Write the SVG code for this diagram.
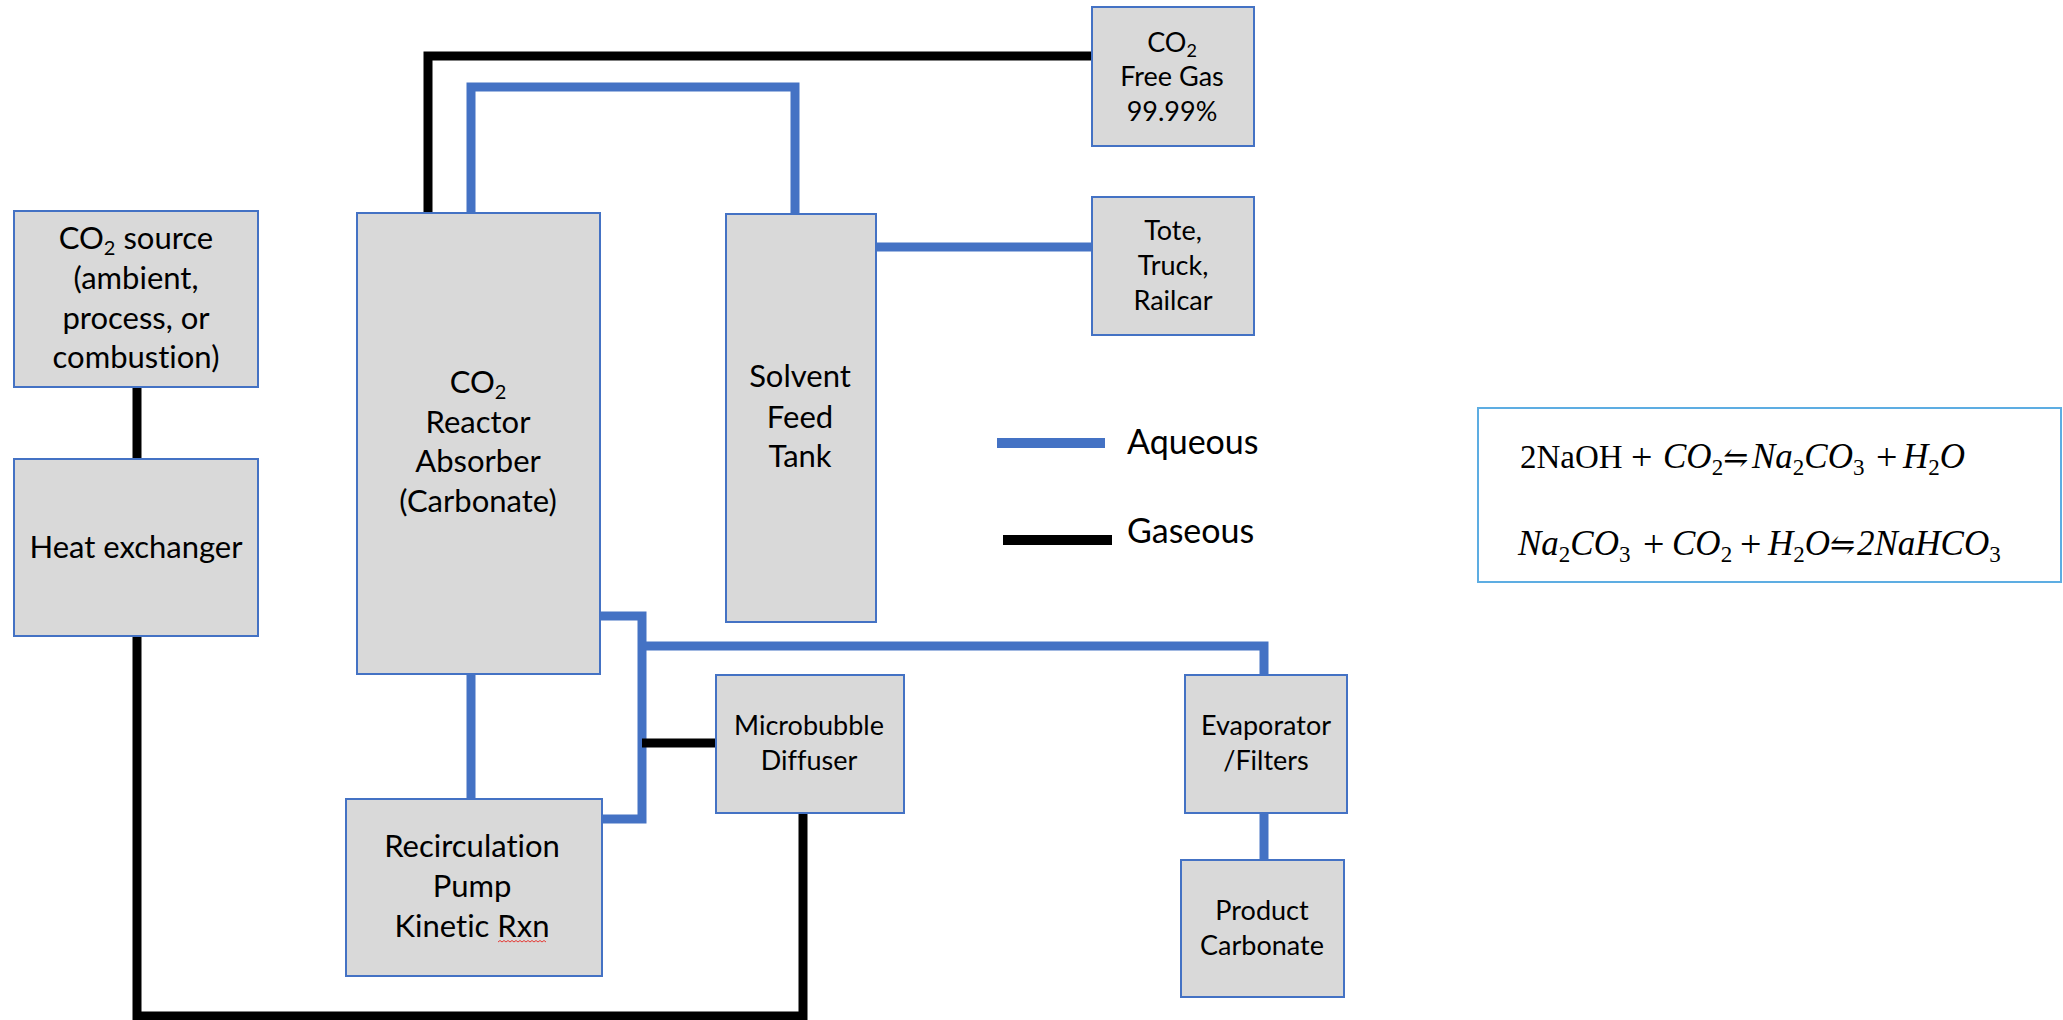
<svg xmlns="http://www.w3.org/2000/svg" width="2063" height="1020" viewBox="0 0 2063 1020">
<style>
.box{fill:#D9D9D9;stroke:#4472C4;stroke-width:2}
.lbl{font-family:Lato,"Liberation Sans",sans-serif;fill:#000;text-anchor:middle;font-variant-ligatures:none}
.big{font-size:31px}
.sm{font-size:27px}
.aq{fill:none;stroke:#4472C4;stroke-width:9;stroke-linejoin:miter;stroke-linecap:butt}
.gas{fill:none;stroke:#000;stroke-width:9;stroke-linejoin:miter;stroke-linecap:butt}
.leg{font-family:Lato,"Liberation Sans",sans-serif;font-size:34px;fill:#000}
.eq{font-family:"Liberation Serif","DejaVu Serif",serif;font-size:33px;fill:#000}
.it{font-style:italic;font-size:35px}
.sb{font-size:23px;font-style:normal}
.pl{font-size:38px;font-style:normal}
.ar{font-family:"DejaVu Serif",serif;font-size:30px;font-style:normal}
</style>
<rect width="2063" height="1020" fill="#fff"/>
<g id="connectors">
<polyline class="gas" points="428,213 428,56 1092,56"/>
<polyline class="aq" points="471,213 471,87 795,87 795,214"/>
<line class="aq" x1="876" y1="247" x2="1092" y2="247"/>
<line class="gas" x1="137" y1="387" x2="137" y2="459"/>
<polyline class="gas" points="137,636 137,1016 803,1016 803,813"/>
<line class="aq" x1="471" y1="674" x2="471" y2="799"/>
<polyline class="aq" points="600,616 642,616 642,819 602,819"/>
<polyline class="aq" points="642,646 1264,646 1264,675"/>
<line class="gas" x1="642" y1="743" x2="716" y2="743"/>
<line class="aq" x1="1264" y1="813" x2="1264" y2="860"/>
</g>
<g id="co2-source">
<rect class="box" x="14" y="211" width="244" height="176"/>
<text class="lbl big" x="136" y="249">CO<tspan font-size="20" dy="6">2</tspan><tspan dy="-6"> source</tspan></text>
<text class="lbl big" x="136" y="289">(ambient,</text>
<text class="lbl big" x="136" y="329">process, or</text>
<text class="lbl big" x="136" y="368">combustion)</text>
</g>
<g id="heat-exchanger">
<rect class="box" x="14" y="459" width="244" height="177"/>
<text class="lbl big" x="136" y="558">Heat exchanger</text>
</g>
<g id="reactor">
<rect class="box" x="357" y="213" width="243" height="461"/>
<text class="lbl big" x="478" y="393">CO<tspan font-size="20" dy="6">2</tspan></text>
<text class="lbl big" x="478" y="433">Reactor</text>
<text class="lbl big" x="478" y="472">Absorber</text>
<text class="lbl big" x="478" y="512">(Carbonate)</text>
</g>
<g id="recirculation-pump">
<rect class="box" x="346" y="799" width="256" height="177"/>
<text class="lbl big" x="472" y="857">Recirculation</text>
<text class="lbl big" x="472" y="897">Pump</text>
<text class="lbl big" x="472" y="937">Kinetic Rxn</text>
<path d="M498,942 l2,-1.5 l2,1.5 l2,-1.5 l2,1.5 l2,-1.5 l2,1.5 l2,-1.5 l2,1.5 l2,-1.5 l2,1.5 l2,-1.5 l2,1.5 l2,-1.5 l2,1.5 l2,-1.5 l2,1.5 l2,-1.5 l2,1.5 l2,-1.5 l2,1.5 l2,-1.5 l2,1.5 l2,-1.5 l2,1.5" fill="none" stroke="#E53935" stroke-width="1"/>
</g>
<g id="solvent-feed-tank">
<rect class="box" x="726" y="214" width="150" height="408"/>
<text class="lbl big" x="800" y="387">Solvent</text>
<text class="lbl big" x="800" y="428">Feed</text>
<text class="lbl big" x="800" y="467">Tank</text>
</g>
<g id="co2-free-gas">
<rect class="box" x="1092" y="7" width="162" height="139"/>
<text class="lbl sm" x="1172" y="52">CO<tspan font-size="18" dy="5">2</tspan></text>
<text class="lbl sm" x="1172" y="86">Free Gas</text>
<text class="lbl sm" x="1172" y="121">99.99%</text>
</g>
<g id="tote">
<rect class="box" x="1092" y="197" width="162" height="138"/>
<text class="lbl sm" x="1173" y="240">Tote,</text>
<text class="lbl sm" x="1173" y="275">Truck,</text>
<text class="lbl sm" x="1173" y="310">Railcar</text>
</g>
<g id="microbubble-diffuser">
<rect class="box" x="716" y="675" width="188" height="138"/>
<text class="lbl sm" x="809" y="735">Microbubble</text>
<text class="lbl sm" x="809" y="770">Diffuser</text>
</g>
<g id="evaporator">
<rect class="box" x="1185" y="675" width="162" height="138"/>
<text class="lbl sm" x="1266" y="735">Evaporator</text>
<text class="lbl sm" x="1266" y="770">/Filters</text>
</g>
<g id="product-carbonate">
<rect class="box" x="1181" y="860" width="163" height="137"/>
<text class="lbl sm" x="1262" y="920">Product</text>
<text class="lbl sm" x="1262" y="955">Carbonate</text>
</g>
<g id="legend">
<line x1="997" y1="443" x2="1105" y2="443" stroke="#4472C4" stroke-width="10"/>
<text class="leg" x="1127" y="454">Aqueous</text>
<line x1="1003" y1="540" x2="1112" y2="540" stroke="#000" stroke-width="10"/>
<text class="leg" x="1127" y="543">Gaseous</text>
</g>
<g id="equations">
<rect x="1478" y="408" width="583" height="174" fill="#fff" stroke="#5DADE2" stroke-width="2"/>
<text class="eq" y="468"><tspan x="1520">2NaOH</tspan><tspan class="pl" x="1631" y="470">+</tspan><tspan class="it" x="1663" y="468">CO</tspan><tspan class="sb" y="475">2</tspan><tspan class="ar" y="468">⇋</tspan><tspan class="it" x="1752" y="468">Na</tspan><tspan class="sb" y="475">2</tspan><tspan class="it" y="468">CO</tspan><tspan class="sb" y="475">3</tspan><tspan class="pl" x="1876" y="470">+</tspan><tspan class="it" x="1903" y="468">H</tspan><tspan class="sb" y="475">2</tspan><tspan class="it" y="468">O</tspan></text>
<text class="eq" y="555"><tspan class="it" x="1518">Na</tspan><tspan class="sb" y="562">2</tspan><tspan class="it" y="555">CO</tspan><tspan class="sb" y="562">3</tspan><tspan class="pl" x="1643" y="557">+</tspan><tspan class="it" x="1672" y="555">CO</tspan><tspan class="sb" y="562">2</tspan><tspan class="pl" x="1740" y="557">+</tspan><tspan class="it" x="1768" y="555">H</tspan><tspan class="sb" y="562">2</tspan><tspan class="it" y="555">O</tspan><tspan class="ar" y="555">⇋</tspan><tspan class="it" x="1857" y="555">2NaHCO</tspan><tspan class="sb" y="562">3</tspan></text>
</g>
</svg>
